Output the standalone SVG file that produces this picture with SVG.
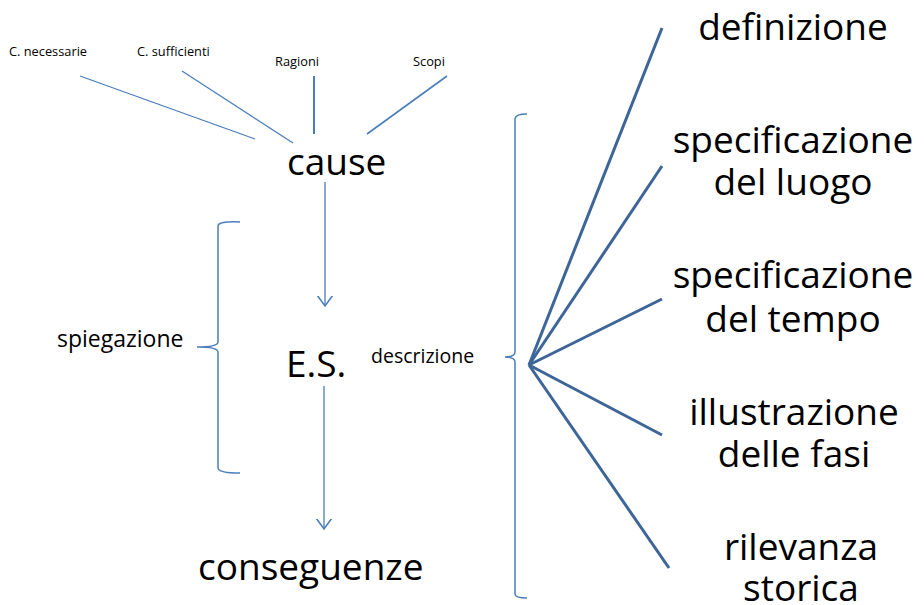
<svg xmlns="http://www.w3.org/2000/svg" width="924" height="605" viewBox="0 0 924 605">
<defs>
<style>
text{font-family:"Open Sans","Liberation Sans",sans-serif;fill:#000}
.big{font-size:37px}
.mid{font-size:23px}
.sm{font-size:19.5px}
.xs{font-size:12.8px}
.thin{stroke:#4a7ebb;stroke-width:1.3;fill:none}
.br{stroke:#4a7ebb;stroke-width:1.5;fill:none}
.fan{stroke:#3d6597;stroke-width:3;fill:none}
.r{text-anchor:middle}
</style>
<marker id="ah" viewBox="0 0 20 20" refX="10" refY="10" markerWidth="20" markerHeight="20" markerUnits="userSpaceOnUse" orient="auto">
<path d="M-1 2 L10 10 L-1 18" fill="none" stroke="#4a7ebb" stroke-width="1.6"/>
</marker>
</defs>
<g id="connectors">
<line class="thin" x1="80" y1="76" x2="255" y2="139"/>
<line class="thin" x1="182" y1="71" x2="293" y2="143"/>
<line class="thin" x1="314" y1="76" x2="314" y2="134" style="stroke-width:2"/>
<line class="thin" x1="447" y1="76" x2="367" y2="134" style="stroke-width:1.6"/>
<line class="thin" x1="325" y1="182" x2="325" y2="306" marker-end="url(#ah)"/>
<line class="thin" x1="324" y1="386" x2="324" y2="529" marker-end="url(#ah)"/>
<path class="br" d="M240 222 Q218 221 218 226 L218 342 Q218 347 197 347 Q218 347 218 352 L218 468 Q218 473 240 473"/>
<path class="br" d="M527 114 Q515 114 515 119 L515 352 Q515 357 505 357 Q515 357 515 362 L515 594 Q515 598 527 598"/>
<line class="fan" x1="529" y1="365" x2="662" y2="28"/>
<line class="fan" x1="529" y1="365" x2="662" y2="166"/>
<line class="fan" x1="529" y1="365" x2="662" y2="299"/>
<line class="fan" x1="529" y1="365" x2="662" y2="435"/>
<line class="fan" x1="529" y1="365" x2="669" y2="568"/>
</g>
<g id="n-necessarie"><text class="xs" x="9" y="56">C. necessarie</text></g>
<g id="n-sufficienti"><text class="xs" x="137" y="56">C. sufficienti</text></g>
<g id="n-ragioni"><text class="xs" x="275" y="66">Ragioni</text></g>
<g id="n-scopi"><text class="xs" x="413" y="66">Scopi</text></g>
<g id="n-cause"><text class="big" x="287" y="175">cause</text></g>
<g id="n-es"><text class="big" x="286" y="377">E.S.</text></g>
<g id="n-conseguenze"><text class="big" x="198" y="580">conseguenze</text></g>
<g id="n-spiegazione"><text class="mid" x="57" y="347">spiegazione</text></g>
<g id="n-descrizione"><text class="sm" x="371" y="363">descrizione</text></g>
<g id="n-definizione"><text class="big r" x="793" y="40">definizione</text></g>
<g id="n-luogo"><text class="big r" x="793" y="153">specificazione</text><text class="big r" x="793" y="195">del luogo</text></g>
<g id="n-tempo"><text class="big r" x="793" y="288">specificazione</text><text class="big r" x="793" y="332">del tempo</text></g>
<g id="n-fasi"><text class="big r" x="794" y="425">illustrazione</text><text class="big r" x="794" y="467">delle fasi</text></g>
<g id="n-rilevanza"><text class="big r" x="801" y="560">rilevanza</text><text class="big r" x="801" y="601">storica</text></g>
</svg>
